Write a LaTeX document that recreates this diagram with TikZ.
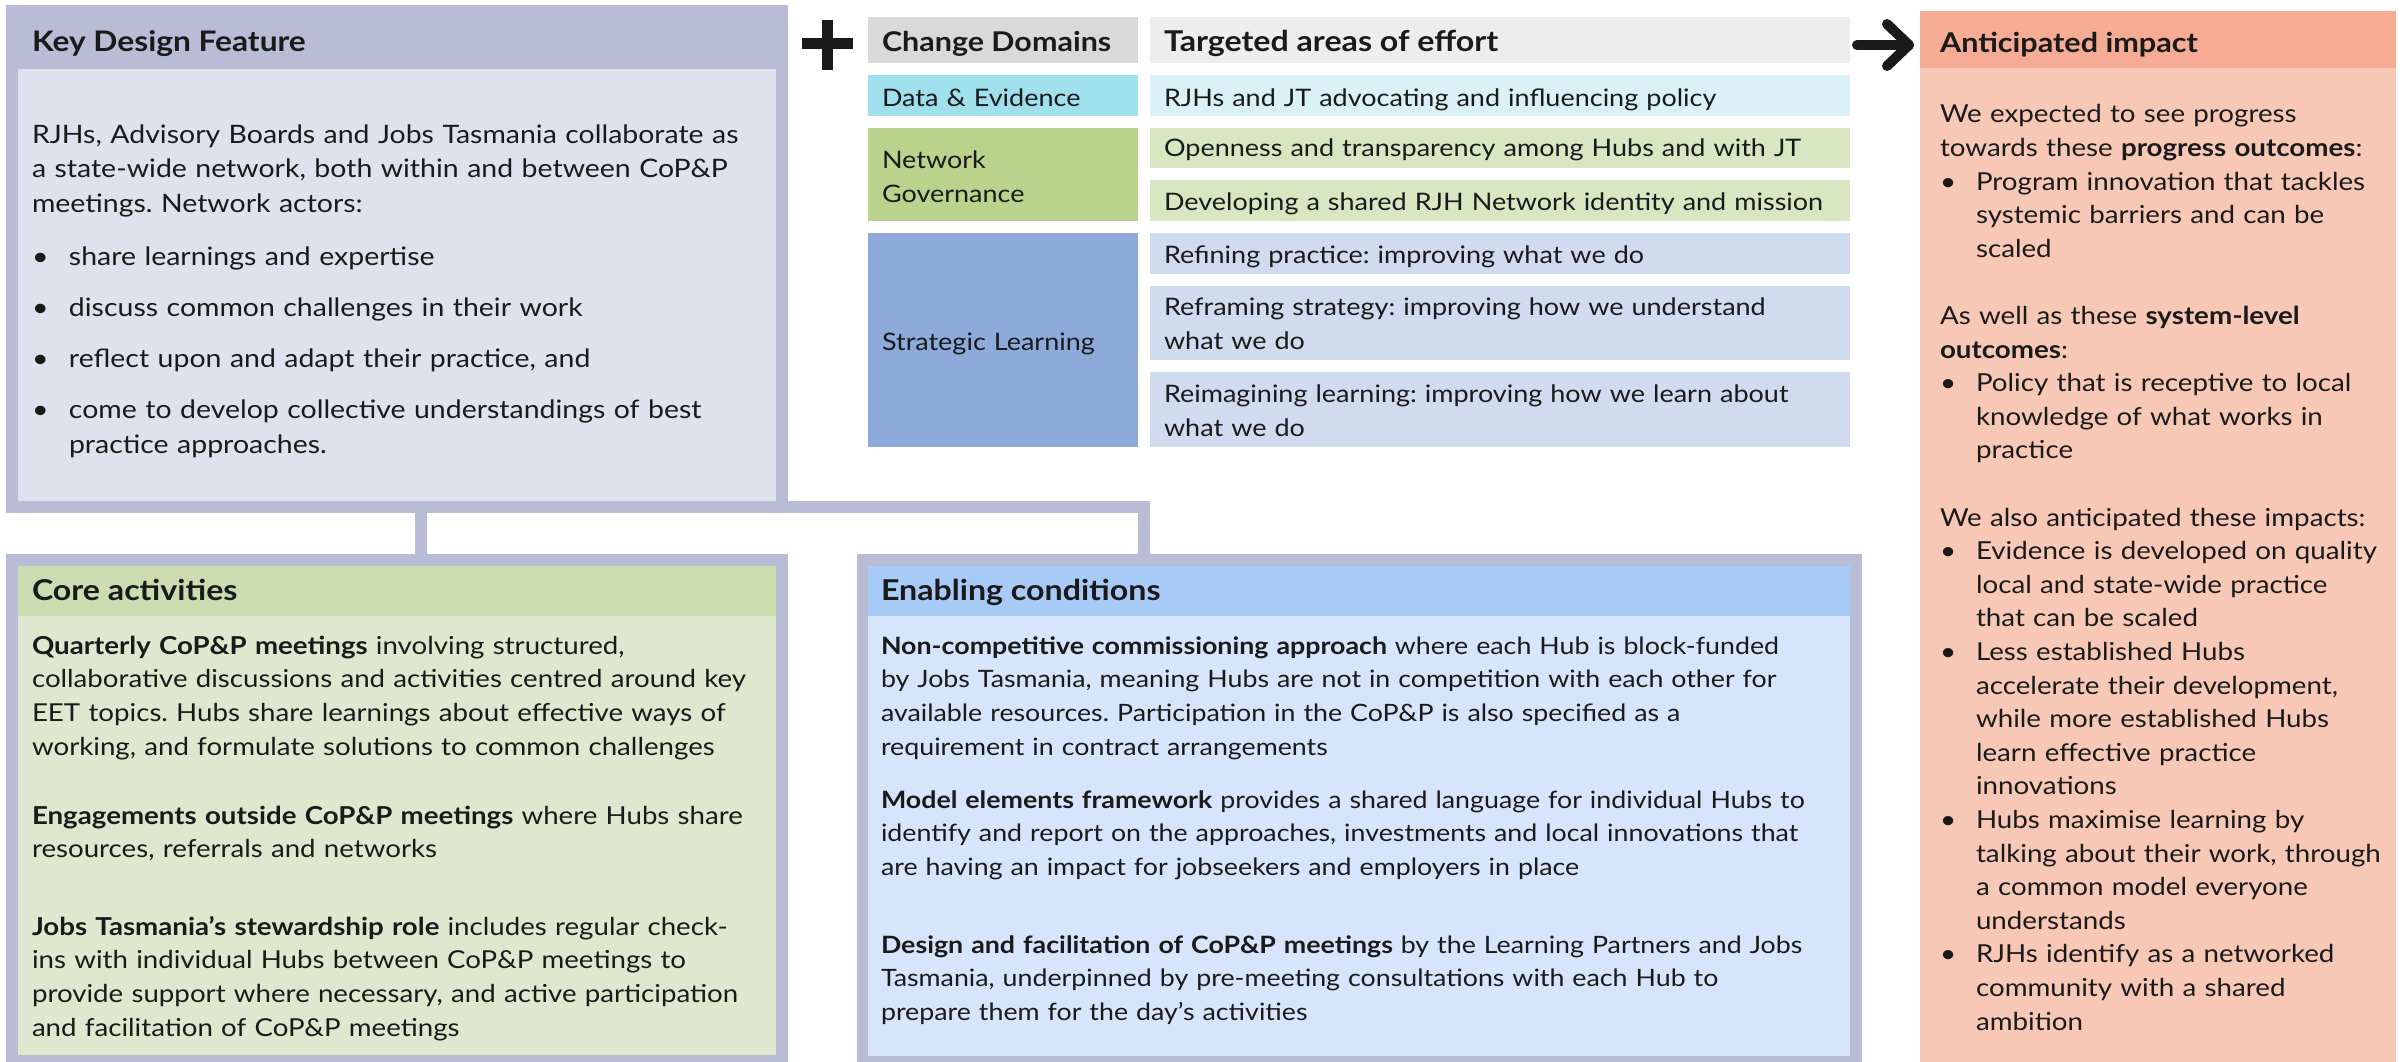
\documentclass[tikz,border=0pt]{standalone}
\usepackage{fontspec}
\setmainfont{Lato}[FakeStretch=1.12]
\definecolor{frameC}{HTML}{B8BCD5}
\definecolor{kdBody}{HTML}{DFE2EC}
\definecolor{cdHead}{HTML}{D9D9D9}
\definecolor{taHead}{HTML}{EDEDED}
\definecolor{deL}{HTML}{A0E0EC}
\definecolor{deR}{HTML}{DAF2F7}
\definecolor{ngL}{HTML}{B9D38D}
\definecolor{ngR}{HTML}{D9E6C2}
\definecolor{slL}{HTML}{8EAADB}
\definecolor{slR}{HTML}{D0DBEF}
\definecolor{aiHead}{HTML}{F5AB94}
\definecolor{aiBody}{HTML}{F8C8B6}
\definecolor{coreHead}{HTML}{CCDBB0}
\definecolor{coreBody}{HTML}{DFE7CE}
\definecolor{enHead}{HTML}{A8CAF6}
\definecolor{enBody}{HTML}{D6E5FB}
\definecolor{ink}{HTML}{1A1A1A}
\newcommand\fs[2]{\fontsize{#1}{#2}\selectfont\frenchspacing}
\newcommand\mybul{\makebox[36pt][l]{•}}
\newcommand\myind{\hspace*{36pt}}
\newcommand\kbul{\makebox[37pt][l]{•}}
\begin{document}
\begin{tikzpicture}[x=1pt,y=-1pt,
  rect/.style={inner sep=0pt, outer sep=0pt, draw=none, anchor=north west},
  txt/.style={inner sep=0pt, outer sep=0pt, anchor=base west, text=ink},
  para/.style={txt, text width=1000pt, align=left},
  ttl/.style={txt, font=\fs{28.3}{34}\bfseries},
  bigtxt/.style={para, font=\fs{25.4}{35}},
  midtxt/.style={para, font=\fs{24.75}{33.6}},
  rowtxt/.style={para, font=\fs{24.1}{34}},
  coretxt/.style={para, font=\fs{24.7}{33.7}},
  entxt/.style={para, font=\fs{23.9}{33.7}},
  conn/.style={draw=frameC, line width=12pt},
  inkline/.style={draw=ink, line width=11pt},
]
\useasboundingbox (0,0) rectangle (2407,1062);
\fill[white] (0,0) rectangle (2407,1062);

% ---------- Key Design Feature ----------
\node[rect, fill=frameC, minimum width=782pt, minimum height=508pt] (kd) at (6,5) {};
\node[rect, fill=kdBody, minimum width=758pt, minimum height=432pt] (kdbody) at (18,69) {};
\node[ttl] (kdtitle) at (32,52) {Key Design Feature};
\node[bigtxt] (kdintro) at (32,143) {RJHs, Advisory Boards and Jobs Tasmania collaborate as\\a state-wide network, both within and between CoP\&P\\meetings. Network actors:};
\node[bigtxt] (kdlist) at (32,265) {\kbul share learnings and expertise\\[16pt]\kbul discuss common challenges in their work\\[16pt]\kbul reflect upon and adapt their practice, and\\[16pt]\kbul come to develop collective understandings of best\\\hspace*{37pt}practice approaches.};

% ---------- Core activities ----------
\node[rect, fill=frameC, minimum width=782pt, minimum height=508pt] (core) at (6,554) {};
\node[rect, fill=coreBody, minimum width=758pt, minimum height=489pt] (corebody) at (18,566) {};
\node[rect, fill=coreHead, minimum width=758pt, minimum height=50pt] (corehead) at (18,566) {};
\node[ttl, font=\fs{28.7}{34}\bfseries] (coretitle) at (32,600) {Core activities};
\node[coretxt] (corep1) at (32,654) {\textbf{Quarterly CoP\&P meetings} involving structured,\\collaborative discussions and activities centred around key\\EET topics. Hubs share learnings about effective ways of\\working, and formulate solutions to common challenges};
\node[coretxt] (corep2) at (32,824) {\textbf{Engagements outside CoP\&P meetings} where Hubs share\\resources, referrals and networks};
\node[coretxt] (corep3) at (32,935) {\textbf{Jobs Tasmania’s stewardship role} includes regular check-\\ins with individual Hubs between CoP\&P meetings to\\provide support where necessary, and active participation\\and facilitation of CoP\&P meetings};

% ---------- Enabling conditions ----------
\node[rect, fill=frameC, minimum width=1005pt, minimum height=508pt] (enab) at (857,554) {};
\node[rect, fill=enBody, minimum width=982pt, minimum height=490pt] (enbody) at (868,566) {};
\node[rect, fill=enHead, minimum width=982pt, minimum height=50pt] (enhead) at (868,566) {};
\node[ttl, font=\fs{28.7}{34}\bfseries] (entitle) at (881,600) {Enabling conditions};
\node[entxt] (enp1) at (881,654) {\textbf{Non-competitive commissioning approach} where each Hub is block-funded\\by Jobs Tasmania, meaning Hubs are not in competition with each other for\\available resources. Participation in the CoP\&P is also specified as a\\requirement in contract arrangements};
\node[entxt] (enp2) at (881,808) {\textbf{Model elements framework} provides a shared language for individual Hubs to\\identify and report on the approaches, investments and local innovations that\\are having an impact for jobseekers and employers in place};
\node[entxt] (enp3) at (881,953) {\textbf{Design and facilitation of CoP\&P meetings} by the Learning Partners and Jobs\\Tasmania, underpinned by pre-meeting consultations with each Hub to\\prepare them for the day’s activities};

% ---------- Connectors ----------
\coordinate (stubx) at (420.5,0);
\coordinate (c2) at (1143.5,507);
\draw[conn] (kd.south -| stubx) -- (core.north -| stubx);
\draw[conn] (kd.east |- c2) -- (c2) -- (enab.north -| c2);

% ---------- Plus sign ----------
\draw[inkline] (802,44) -- (853,44);
\draw[inkline] (827.5,20) -- (827.5,70);

% ---------- Change domains table ----------
\node[rect, fill=cdHead, minimum width=270pt, minimum height=46pt] (cdh) at (868,17) {};
\node[rect, fill=taHead, minimum width=700pt, minimum height=46pt] (tah) at (1150,17) {};
\node[ttl, font=\fs{27.2}{34}\bfseries] (cdhtext) at (882,52) {Change Domains};
\node[ttl, font=\fs{28.7}{34}\bfseries] (tahtext) at (1164,52) {Targeted areas of effort};

\node[rect, fill=deL, minimum width=270pt, minimum height=41pt] (de) at (868,75) {};
\node[rect, fill=deR, minimum width=700pt, minimum height=41pt] (der) at (1150,75) {};
\node[rowtxt] (detext) at (882,107) {Data \& Evidence};
\node[rowtxt] (dertext) at (1164,107) {RJHs and JT advocating and influencing policy};

\node[rect, fill=ngL, minimum width=270pt, minimum height=93pt] (ng) at (868,128) {};
\node[rect, fill=ngR, minimum width=700pt, minimum height=40pt] (ngr1) at (1150,128) {};
\node[rect, fill=ngR, minimum width=700pt, minimum height=41pt] (ngr2) at (1150,180) {};
\node[rowtxt] (ngtext) at (882,168) {Network\\Governance};
\node[rowtxt] (ngr1text) at (1164,157) {Openness and transparency among Hubs and with JT};
\node[rowtxt] (ngr2text) at (1164,210) {Developing a shared RJH Network identity and mission};

\node[rect, fill=slL, minimum width=270pt, minimum height=214pt] (sl) at (868,233) {};
\node[rect, fill=slR, minimum width=700pt, minimum height=41pt] (slr1) at (1150,233) {};
\node[rect, fill=slR, minimum width=700pt, minimum height=74pt] (slr2) at (1150,286) {};
\node[rect, fill=slR, minimum width=700pt, minimum height=75pt] (slr3) at (1150,372) {};
\node[rowtxt] (sltext) at (882,350) {Strategic Learning};
\node[rowtxt] (slr1text) at (1164,263) {Refining practice: improving what we do};
\node[rowtxt] (slr2text) at (1164,315) {Reframing strategy: improving how we understand\\what we do};
\node[rowtxt] (slr3text) at (1164,402) {Reimagining learning: improving how we learn about\\what we do};

% ---------- Anticipated impact ----------
\node[rect, fill=aiBody, minimum width=476pt, minimum height=1051pt] (ai) at (1920,11) {};
\node[rect, fill=aiHead, minimum width=476pt, minimum height=57pt] (aihead) at (1920,11) {};
\node[ttl, font=\fs{27.3}{34}\bfseries] (aititle) at (1940,53) {Anticipated impact};
\node[midtxt] (aibody) at (1940,123) {We expected to see progress\\
towards these \textbf{progress outcomes}:\\
\mybul Program innovation that tackles\\
\myind systemic barriers and can be\\
\myind scaled\\[33.6pt]
As well as these \textbf{system-level}\\
\textbf{outcomes}:\\
\mybul Policy that is receptive to local\\
\myind knowledge of what works in\\
\myind practice\\[33.6pt]
We also anticipated these impacts:\\
\mybul Evidence is developed on quality\\
\myind local and state-wide practice\\
\myind that can be scaled\\
\mybul Less established Hubs\\
\myind accelerate their development,\\
\myind while more established Hubs\\
\myind learn effective practice\\
\myind innovations\\
\mybul Hubs maximise learning by\\
\myind talking about their work, through\\
\myind a common model everyone\\
\myind understands\\
\mybul RJHs identify as a networked\\
\myind community with a shared\\
\myind ambition};

% ---------- Arrow ----------
\coordinate (arrS) at (1857,45);
\coordinate (arrT) at (1909,45);
\draw[inkline, line width=10pt, line cap=round] (arrS) -- (arrT);
\draw[inkline, line width=10pt, line cap=round, line join=round] (1887,24) -- (arrT) -- (1887,66);
\end{tikzpicture}
\end{document}
